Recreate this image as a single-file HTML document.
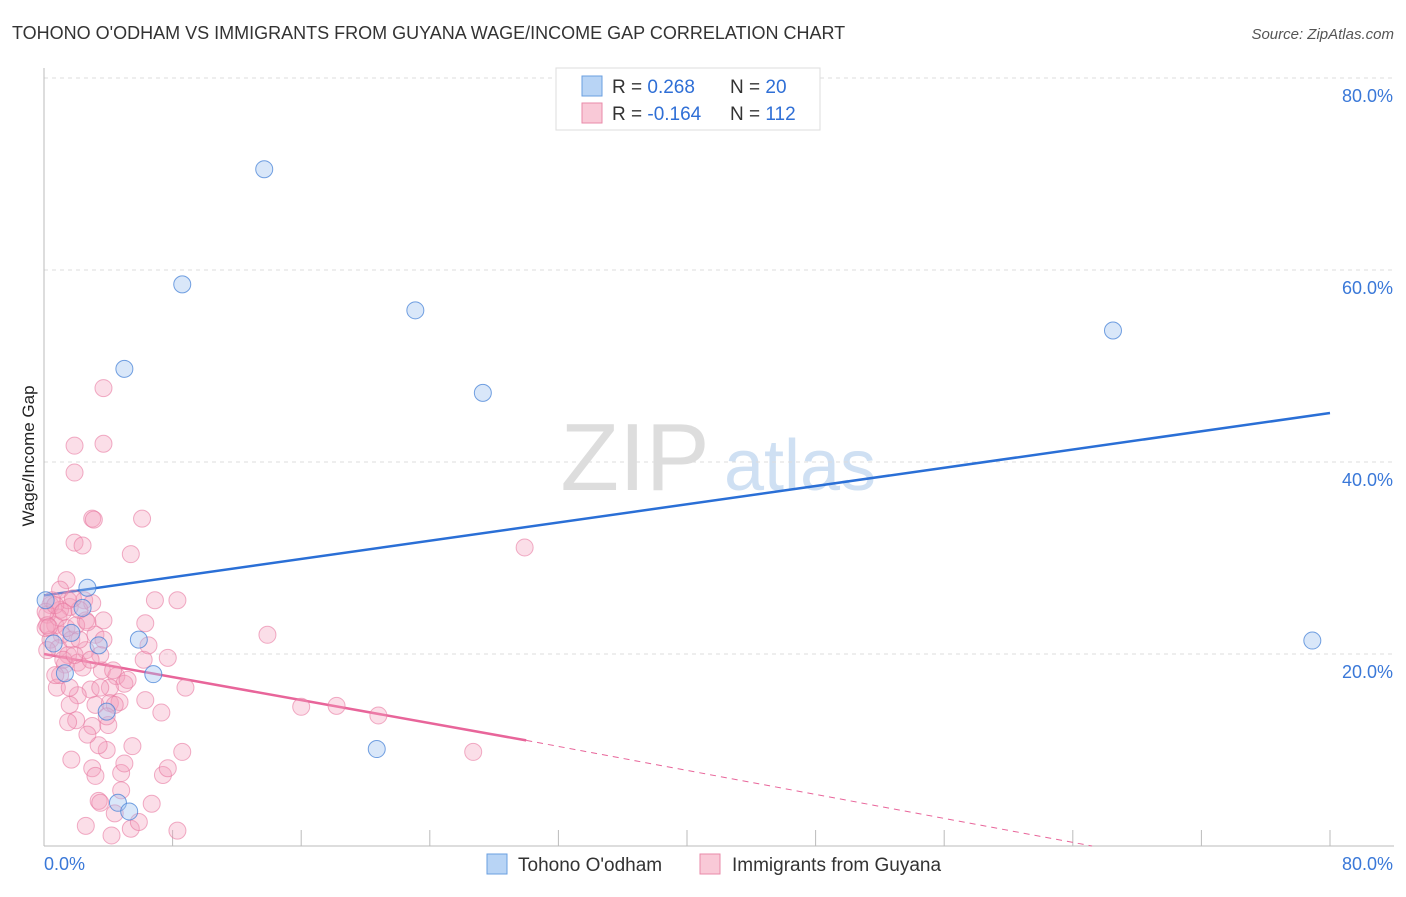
<!DOCTYPE html>
<html><head><meta charset="utf-8"><style>
body{margin:0;background:#fff;font-family:"Liberation Sans",sans-serif;}
svg text{font-family:"Liberation Sans",sans-serif;}
</style></head><body>
<svg id="chart" width="1406" height="892" viewBox="0 0 1406 892">
<text x="12" y="39" font-size="18" fill="#333">TOHONO O'ODHAM VS IMMIGRANTS FROM GUYANA WAGE/INCOME GAP CORRELATION CHART</text>
<text x="1394" y="39" font-size="15" fill="#555" font-style="italic" text-anchor="end">Source: ZipAtlas.com</text>
<text x="0" y="0" font-size="17" fill="#222" text-anchor="middle" transform="translate(34,456) rotate(-90)">Wage/Income Gap</text>
<g><text x="635" y="490" font-size="96" fill="#ddd" font-family="Liberation Serif" text-anchor="middle">ZIP</text><text x="800" y="490" font-size="72" fill="#cfe0f3" text-anchor="middle">atlas</text></g>
<g id="grid"></g><g id="axes"></g><g id="lines"></g><g id="pts"></g>
<g>
<rect x="556" y="68" width="264" height="62" fill="#fff" stroke="#ddd"/>
<rect x="582" y="76" width="20" height="20" fill="#b8d4f5" stroke="#6a9fe0"/>
<text x="612" y="93" font-size="19" fill="#333">R = <tspan fill="#2f6fd6"> 0.268</tspan><tspan x="730">N = </tspan><tspan fill="#2f6fd6">20</tspan></text>
<rect x="582" y="103" width="20" height="20" fill="#f9c9d7" stroke="#e98aa8"/>
<text x="612" y="120" font-size="19" fill="#333">R = <tspan fill="#2f6fd6">-0.164</tspan><tspan x="730">N = </tspan><tspan fill="#2f6fd6">112</tspan></text>
</g>
<g>
<rect x="487" y="854" width="20" height="20" fill="#b8d4f5" stroke="#6a9fe0"/>
<text x="518" y="871" font-size="19" fill="#333">Tohono O'odham</text>
<rect x="700" y="854" width="20" height="20" fill="#f9c9d7" stroke="#e98aa8"/>
<text x="732" y="871" font-size="19" fill="#333">Immigrants from Guyana</text>
</g>
</svg>
<script>
const blueX=[13.7,8.6,23.1,66.5,5.0,27.3,78.9,20.7,2.7,2.4,1.7,3.4,0.6,5.9,6.8,3.9,4.6,5.3,1.3,0.1];
const blueY=[70.5,58.5,55.8,53.7,49.7,47.2,21.4,10.1,26.9,24.8,22.2,20.9,21.1,21.5,17.9,14.0,4.5,3.6,18.0,25.6];
const pinkX=[3.7,1.9,3.7,1.9,3.0,3.1,6.1,1.9,2.4,5.4,29.9,1.4,6.9,8.3,13.9,6.3,3.7,3.2,2.6,1.6,1.0,0.4,0.2,0.7,1.1,0.4,0.9,1.5,2.1,1.3,2.4,3.6,4.5,5.0,6.2,7.7,8.8,6.5,4.3,2.9,2.1,1.6,3.2,4.1,4.7,2.0,1.5,3.0,4.0,3.9,3.4,5.5,7.3,8.6,16.0,18.2,20.8,26.7,3.0,3.2,4.8,5.0,7.4,7.7,3.4,3.5,4.8,6.7,4.4,2.6,4.2,5.4,5.9,8.3,0.8,1.0,1.2,1.7,2.6,3.5,0.7,2.5,3.0,0.5,0.1,0.2,0.9,1.4,2.0,2.2,2.7,1.6,4.1,5.2,2.2,1.5,0.1,0.7,0.2,1.2,1.9,2.9,3.7,1.0,1.8,3.5,4.4,2.7,1.7,6.3,3.9,0.3];
const pinkY=[47.7,41.7,41.9,38.9,34.1,34.0,34.1,31.6,31.3,30.4,31.1,27.7,25.6,25.6,22.0,23.2,23.5,22.0,23.5,24.9,24.6,25.1,24.1,23.0,22.0,21.5,20.6,19.9,19.1,18.9,18.6,18.3,17.7,16.9,19.4,19.6,16.5,20.9,18.3,16.3,15.7,14.7,14.7,14.9,15.0,13.1,12.9,12.5,12.6,10.0,10.5,10.4,13.9,9.8,14.5,14.6,13.6,9.8,8.1,7.3,7.6,8.6,7.4,8.1,4.7,4.5,5.8,4.4,3.4,2.1,1.1,1.8,2.5,1.6,16.5,17.8,19.4,21.5,20.4,19.9,17.8,25.6,25.3,25.6,22.7,20.4,23.8,22.7,23.0,21.5,23.3,16.5,16.5,17.3,24.6,25.6,24.4,25.1,23.0,24.4,19.9,19.4,21.5,26.7,25.8,16.5,14.7,11.6,9.0,15.2,13.5,22.8];
const blueLineX=[0,80],blueLineY=[26.1,45.1];
const pinkLineX=[0,30.0],pinkLineY=[20.0,11.0];
const pinkDashX=[30.0,65.2],pinkDashY=[11.0,0];
const yTicks=[20,40,60,80];
const yTickLabels=["20.0%","40.0%","60.0%","80.0%"];
const xTicks=[0,8,16,24,32,40,48,56,64,72,80];
const NS="http://www.w3.org/2000/svg";
const sx=v=>44+v*16.075, sy=v=>846-v*9.6;
function mk(tag,attrs,parent){const e=document.createElementNS(NS,tag);for(const k in attrs)e.setAttribute(k,attrs[k]);document.getElementById(parent).appendChild(e);return e;}
yTicks.forEach((t,i)=>{
 const g=mk('line',{x1:44,x2:1394,y1:sy(t),y2:sy(t),stroke:'#ddd','stroke-dasharray':'4,4'},'grid');
 
 
 const tx=mk('text',{x:1393,y:sy(t)+24,'font-size':18,fill:'#3a78d8','text-anchor':'end'},'axes');
 tx.textContent=yTickLabels[i];
 
 
});
const ax=mk('line',{x1:44,x2:44,y1:68,y2:846,stroke:'#bbb'},'axes');


const bx=mk('line',{x1:44,x2:1394,y1:846,y2:846,stroke:'#bbb'},'axes');


xTicks.forEach(t=>{const l=mk('line',{x1:sx(t),x2:sx(t),y1:830,y2:846,stroke:'#bbb'},'axes');
 
 });
const xl0=mk('text',{x:44,y:870,'font-size':18,fill:'#3a78d8'},'axes');xl0.textContent='0.0%';


const xl1=mk('text',{x:1393,y:870,'font-size':18,fill:'#3a78d8','text-anchor':'end'},'axes');xl1.textContent='80.0%';


pinkX.forEach((x,i)=>{const c=mk('circle',{cx:sx(x),cy:sy(pinkY[i]),r:8.5,fill:'rgba(244,160,188,0.35)',stroke:'rgba(232,120,160,0.6)','stroke-width':1},'pts');
 
 });
blueX.forEach((x,i)=>{const c=mk('circle',{cx:sx(x),cy:sy(blueY[i]),r:8.5,fill:'rgba(160,195,240,0.4)',stroke:'rgba(70,130,215,0.75)','stroke-width':1},'pts');
 
 });
const bl=mk('line',{x1:sx(blueLineX[0]),y1:sy(blueLineY[0]),x2:sx(blueLineX[1]),y2:sy(blueLineY[1]),stroke:'#2a6fd6','stroke-width':2.5},'lines');


const pl=mk('line',{x1:sx(pinkLineX[0]),y1:sy(pinkLineY[0]),x2:sx(pinkLineX[1]),y2:sy(pinkLineY[1]),stroke:'#e8659a','stroke-width':2.5},'lines');


const pd=mk('line',{x1:sx(pinkDashX[0]),y1:sy(pinkDashY[0]),x2:sx(pinkDashX[1]),y2:sy(pinkDashY[1]),stroke:'#e8659a','stroke-width':1,'stroke-dasharray':'6,5'},'lines');


</script>
</body></html>
